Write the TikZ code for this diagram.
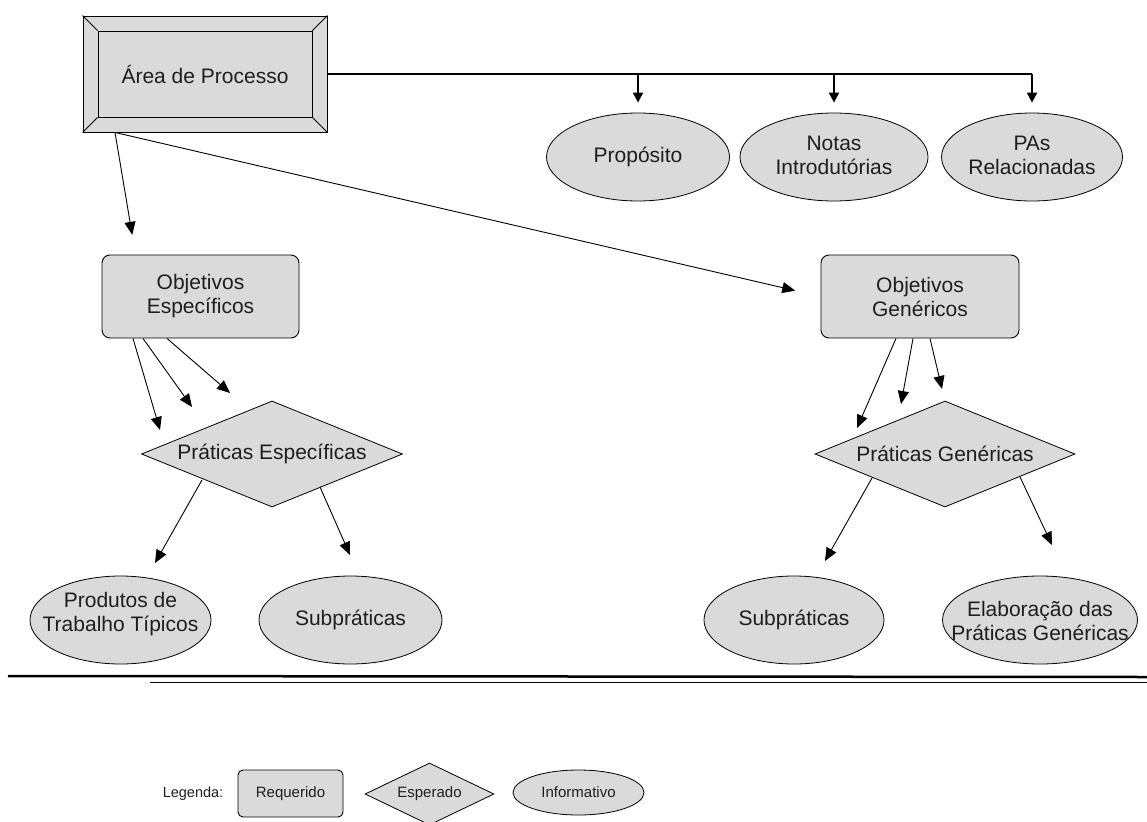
\documentclass[tikz,border=0pt]{standalone}
\usepackage{fontspec}
\setmainfont{Liberation Sans}
\usetikzlibrary{arrows.meta,shapes.geometric,calc}
\definecolor{boxgray}{RGB}{218,218,218}
\definecolor{txt}{RGB}{30,30,30}
\begin{document}
\begin{tikzpicture}[x=1pt,y=-1pt,
  every node/.style={text=txt, font=\fontsize{21}{24}\selectfont, align=center},
  req/.style={draw, fill=boxgray, rounded corners=8pt, line width=0.9pt, inner sep=0pt},
  esp/.style={draw, fill=boxgray, diamond, aspect=2.46, inner sep=0pt, line width=0.8pt},
  inf/.style={draw, fill=boxgray, ellipse, inner sep=0pt, line width=0.8pt},
  bev/.style={draw, fill=boxgray, line width=0.9pt, inner sep=0pt},
  small/.style={font=\fontsize{15}{18}\selectfont},
  arr/.style={line width=0.9pt, -{Triangle[length=13pt,width=11pt]}},
  varr/.style={line width=2pt, -{Triangle[length=10pt,width=10pt]}},
  hline/.style={line width=1.2pt},
]
\useasboundingbox (0,0) rectangle (1147,821);

% main bevelled box
\node[bev, minimum width=244pt, minimum height=116pt] (ap) at (205,74) {};
\node[bev, minimum width=214pt, minimum height=86pt] (api) at (205,74) {Área de Processo};
\foreach \a in {north west, north east, south west, south east}
  \draw[line width=0.9pt] (ap.\a) -- (api.\a);

% top ellipses
\node[inf, minimum width=183pt, minimum height=88pt] (pr) at (638,157) {Propósito};
\node[inf, minimum width=188pt, minimum height=88pt] (no) at (834,157) {};
\node (no-t) at (834,155) {Notas\\Introdutórias};
\node[inf, minimum width=181pt, minimum height=88pt] (pa) at (1032,157) {};
\node (pa-t) at (1032,155) {PAs\\Relacionadas};

\coordinate (j1) at (pr.north |- ap.east);
\coordinate (j2) at (no.north |- ap.east);
\coordinate (j3) at (pa.north |- ap.east);
\draw[hline] (ap.east) -- (j3);
\draw[varr, shorten >=10pt] (j1) -- (pr.north);
\draw[varr, shorten >=10pt] (j2) -- (no.north);
\draw[varr, shorten >=10pt] (j3) -- (pa.north);

% objectives
\node[req, minimum width=197pt, minimum height=83pt] (oe) at (200.5,296.5) {Objetivos\\Específicos};
\node[req, minimum width=198pt, minimum height=83pt] (og) at (920,296.5) {Objetivos\\Genéricos};

\draw[arr, shorten >=20pt] ([xshift=-90pt]ap.south) -- ([xshift=-65pt]oe.north);
\draw[arr, shorten >=26pt] ([xshift=-90pt]ap.south) -- (og.west);

% practices
\node[esp, minimum width=261pt, minimum height=106pt] (pe) at (272,454) {Práticas Específicas};
\node[esp, minimum width=260pt, minimum height=106pt] (pg) at (945,454) {Práticas Genéricas};

\coordinate (e1) at (160,430);
\coordinate (e2) at (192,407);
\coordinate (e3) at (230,393);
\draw[arr] ([xshift=-67.5pt]oe.south) -- (e1);
\draw[arr] ([xshift=-57.5pt]oe.south) -- (e2);
\draw[arr] ([xshift=-33.5pt]oe.south) -- (e3);

\coordinate (g1) at (857,428);
\coordinate (g2) at (901,404);
\coordinate (g3) at (942,389);
\draw[arr] ([xshift=-24pt]og.south) -- (g1);
\draw[arr] ([xshift=-7pt]og.south) -- (g2);
\draw[arr] ([xshift=10pt]og.south) -- (g3);

% bottom ellipses
\node[inf, minimum width=181pt, minimum height=88pt] (pt) at (120.5,620) {};
\node (pt-t) at (120.5,614) {Produtos de\\Trabalho Típicos};
\node[inf, minimum width=183pt, minimum height=88pt] (sa) at (350.5,620) {Subpráticas};
\node[inf, minimum width=180pt, minimum height=88pt] (sb) at (794,620) {Subpráticas};
\node[inf, minimum width=195pt, minimum height=88pt] (el) at (1040,620) {};
\node (el-t) at (1040,621) {Elaboração das\\Práticas Genéricas};

\coordinate (p1) at (155,563);
\coordinate (p2) at (350,555);
\coordinate (q1) at (825,561);
\coordinate (q2) at (1052,545);
\draw[arr] ([shift={(-70,26)}]pe.center) -- (p1);
\draw[arr] ([shift={(48,33)}]pe.center) -- (p2);
\draw[arr] ([shift={(-73,24)}]pg.center) -- (q1);
\draw[arr] ([shift={(75,23)}]pg.center) -- (q2);

% horizontal rules across the lower part
\draw[line width=2.5pt] (8,676) -- (1147,677);
\draw[line width=0.8pt] (150,682) -- (1147,682);

% legend
\node[small, inner sep=0pt, font=\fontsize{14.5}{17}\selectfont] (leg) at (193,794) {Legenda:};
\node[req, small, rounded corners=5pt, minimum width=105pt, minimum height=47pt] (lr) at (290.5,793.5) {Requerido};
\node[esp, small, aspect=2.08, minimum width=129pt, minimum height=62pt] (le) at (429.5,794) {Esperado};
\node[inf, small, minimum width=131pt, minimum height=45pt] (li) at (578.5,792.5) {Informativo};
\end{tikzpicture}
\end{document}
